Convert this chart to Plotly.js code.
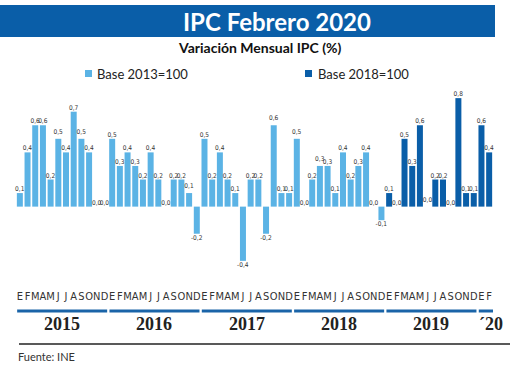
<!DOCTYPE html>
<html>
<head>
<meta charset="utf-8">
<script src="https://cdn.plot.ly/plotly-3.0.1.min.js"></script>
<style>html,body{margin:0;padding:0;background:#fff;}#chart{width:520px;height:366px;}</style>
</head>
<body>
<div id="chart"></div>
<script>
// ---- DATA ----
const monthLetters = ["E","F","M","A","M","J","J","A","S","O","N","D"];
const years = [2015, 2016, 2017, 2018, 2019, 2020];
const yearLabels = ["2015", "2016", "2017", "2018", "2019", "´20"];
// Base 2013=100 : Jan 2015 - Dec 2018
const base2013 = [
  0.1, 0.4, 0.6, 0.6, 0.2, 0.5, 0.4, 0.7, 0.5, 0.4, 0.0, 0.0,
  0.5, 0.3, 0.4, 0.3, 0.2, 0.4, 0.2, 0.0, 0.2, 0.2, 0.1, -0.2,
  0.5, 0.2, 0.4, 0.2, 0.1, -0.4, 0.2, 0.2, -0.2, 0.6, 0.1, 0.1,
  0.5, 0.0, 0.2, 0.3, 0.3, 0.1, 0.4, 0.2, 0.3, 0.4, 0.0, -0.1
];
// Base 2018=100 : Jan 2019 - Feb 2020
const base2018 = [
  0.1, 0.0, 0.5, 0.3, 0.6, 0.0, 0.2, 0.2, 0.0, 0.8, 0.1, 0.1,
  0.6, 0.4
];
const seriesNames = ["Base 2013=100", "Base 2018=100"];
const colors = ["#5bb3e5", "#0a5ea8"];

// ---- BUILD ----
const W = 520, H = 366;
const M = {l: 16, r: 27, t: 71, b: 78};
const PW = W - M.l - M.r, PH = H - M.t - M.b;
const px = x => (x - M.l) / PW;
const py = y => (H - M.b - y) / PH;

const nTotal = base2013.length + base2018.length;
const idx = Array.from({length: nTotal}, (_, i) => i);
const tickText = idx.map(i => monthLetters[i % 12]);
const fmt = v => v.toFixed(1).replace('.', ',');

const x1 = idx.slice(0, base2013.length);
const x2 = idx.slice(base2013.length);

const labelFont = {family: "'Liberation Sans Narrow', 'DejaVu Sans Condensed', sans-serif", size: 6.5, color: "#333"};

const traces = [
  {type: 'bar', name: seriesNames[0], x: x1, y: base2013, text: base2013.map(fmt),
   textposition: 'outside', constraintext: 'none', cliponaxis: false, textfont: labelFont,
   marker: {color: colors[0]}, width: 0.78, showlegend: false, hoverinfo: 'skip'},
  {type: 'bar', name: seriesNames[1], x: x2, y: base2018, text: base2018.map(fmt),
   textposition: 'outside', constraintext: 'none', cliponaxis: false, textfont: labelFont,
   marker: {color: colors[1]}, width: 0.78, showlegend: false, hoverinfo: 'skip'}
];

const shapes = [
  {type: 'rect', xref: 'paper', yref: 'paper', x0: px(0), x1: px(495), y0: py(5), y1: py(37),
   fillcolor: '#0a5ea8', line: {width: 0}, layer: 'below'},
  {type: 'rect', xref: 'paper', yref: 'paper', x0: px(85), x1: px(92), y0: py(70), y1: py(77),
   fillcolor: colors[0], line: {width: 0}},
  {type: 'rect', xref: 'paper', yref: 'paper', x0: px(305), x1: px(312), y0: py(70), y1: py(77),
   fillcolor: colors[1], line: {width: 0}},
  {type: 'line', xref: 'paper', yref: 'paper', x0: px(19), x1: px(510), y0: py(344), y1: py(344),
   line: {color: '#222', width: 1.5}}
];

const annotations = [
  {text: "<b>IPC Febrero 2020</b>", xref: 'paper', yref: 'paper', x: px(277), y: py(21),
   showarrow: false, xanchor: 'center', yanchor: 'middle',
   font: {family: "Lato, 'Open Sans', sans-serif", size: 24, color: '#fff'}},
  {text: "<b>Variación Mensual IPC (%)</b>", xref: 'paper', yref: 'paper', x: px(260), y: py(47),
   showarrow: false, xanchor: 'center', yanchor: 'middle',
   font: {family: "Lato, 'Open Sans', sans-serif", size: 14, color: '#111'}},
  {text: seriesNames[0], xref: 'paper', yref: 'paper', x: px(95), y: py(73.5),
   showarrow: false, xanchor: 'left', yanchor: 'middle',
   font: {family: "Lato, 'Open Sans', sans-serif", size: 13, color: '#222'}},
  {text: seriesNames[1], xref: 'paper', yref: 'paper', x: px(316), y: py(73.5),
   showarrow: false, xanchor: 'left', yanchor: 'middle',
   font: {family: "Lato, 'Open Sans', sans-serif", size: 13, color: '#222'}},
  {text: "Fuente: INE", xref: 'paper', yref: 'paper', x: px(16), y: py(356),
   showarrow: false, xanchor: 'left', yanchor: 'middle',
   font: {family: "Lato, 'Open Sans', sans-serif", size: 11, color: '#333'}}
];

years.forEach((yr, k) => {
  const start = k * 12;
  const end = Math.min(start + 11, nTotal - 1);
  const extra = (end - start < 11) ? 1.6 : 0;
  shapes.push({type: 'line', xref: 'x', yref: 'paper', x0: start - 0.35, x1: end + 0.35 + extra,
    y0: py(311), y1: py(311), line: {color: '#1a64a8', width: 3}});
  annotations.push({text: "<b>" + yearLabels[k] + "</b>", xref: 'x', yref: 'paper',
    x: (start + end + extra) / 2, y: py(324), showarrow: false, xanchor: 'center', yanchor: 'middle',
    font: {family: "'Liberation Serif', 'DejaVu Serif', serif", size: 18, color: '#222'}});
});

const layout = {
  width: W, height: H,
  margin: M,
  paper_bgcolor: '#fff', plot_bgcolor: '#fff',
  barmode: 'overlay',
  showlegend: false,
  xaxis: {range: [-0.5, nTotal - 0.5], tickvals: idx, ticktext: tickText, ticks: '',
          showgrid: false, zeroline: false, showline: false, tickangle: 0,
          tickfont: {family: "'Liberation Sans Narrow', 'DejaVu Sans Condensed', sans-serif", size: 11, color: '#333'}},
  yaxis: {range: [-0.6, 1.0], showgrid: false, zeroline: false, showticklabels: false, showline: false, ticks: ''},
  shapes: shapes,
  annotations: annotations
};

Plotly.newPlot('chart', traces, layout, {staticPlot: true, displayModeBar: false});
</script>
</body>
</html>
